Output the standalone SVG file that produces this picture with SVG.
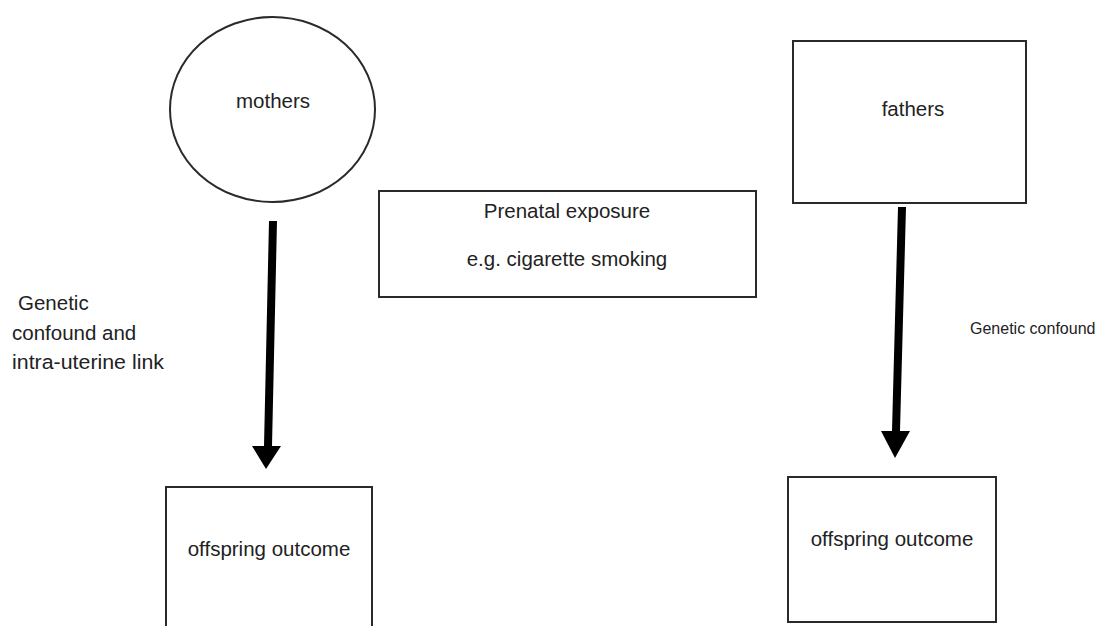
<svg xmlns="http://www.w3.org/2000/svg" width="1104" height="626" viewBox="0 0 1104 626">
<style>
.box{fill:#fff;stroke:#2a2a2a;stroke-width:2}
.t{font-family:"Liberation Sans",Arial,sans-serif;font-size:20.5px;fill:#222;text-anchor:middle}
.lab{font-family:"Liberation Sans",Arial,sans-serif;font-size:20.5px;fill:#222}
.arrow{fill:#000;stroke:none}
</style>
<rect width="1104" height="626" fill="#fff"/>
<g id="mothers">
<ellipse class="box" cx="272.5" cy="109.5" rx="102.5" ry="92.5" stroke="#111"/>
<text class="t" x="273" y="108">mothers</text>
</g>
<g id="fathers">
<rect class="box" x="793" y="41" width="233" height="162"/>
<text class="t" x="913" y="116">fathers</text>
</g>
<g id="prenatal">
<rect class="box" x="379" y="191" width="377" height="106"/>
<text class="t" x="567" y="218">Prenatal exposure</text>
<text class="t" x="567" y="266">e.g. cigarette smoking</text>
</g>
<g id="offspring-left">
<rect class="box" x="166" y="487" width="206" height="160"/>
<text class="t" x="269" y="556">offspring outcome</text>
</g>
<g id="offspring-right">
<rect class="box" x="788" y="477" width="208" height="145"/>
<text class="t" x="892" y="546">offspring outcome</text>
</g>
<g id="connectors">
<polygon class="arrow" points="269,221 277,221 272,446 281,446 266,469 252,446 264,446"/>
<polygon class="arrow" points="898,207 906,207 900,431 910,431 895,458 881,431 892,431"/>
</g>
<g id="labels">
<text class="lab" x="18" y="310">Genetic</text>
<text class="lab" x="12" y="340">confound and</text>
<text class="lab" x="12" y="369" textLength="152" lengthAdjust="spacingAndGlyphs">intra-uterine link</text>
<text class="lab" x="970" y="334" style="font-size:16px">Genetic confound</text>
</g>
</svg>
